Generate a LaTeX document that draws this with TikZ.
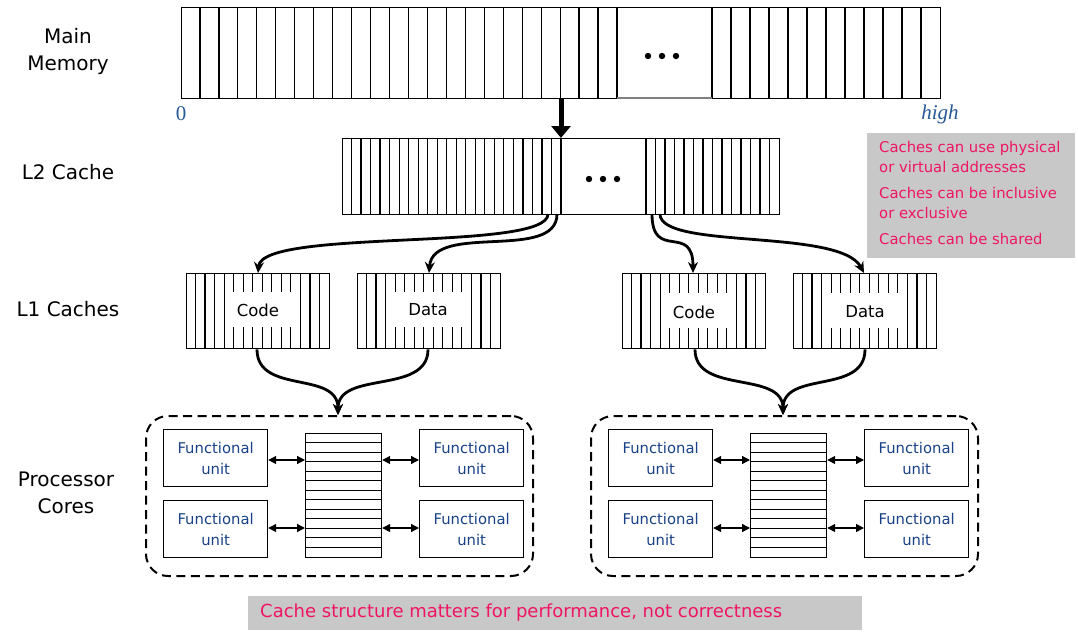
\documentclass[tikz,border=0pt]{standalone}
\usepackage{fontspec}
\setmainfont{DejaVu Sans}
\newfontfamily\addrfont{Liberation Serif}
\usetikzlibrary{arrows.meta}
\definecolor{pinktxt}{RGB}{240,20,100}
\definecolor{boxgray}{RGB}{200,200,200}
\definecolor{fublue}{RGB}{25,65,135}
\definecolor{addrblue}{RGB}{40,90,150}
\begin{document}
\begin{tikzpicture}[x=1pt,y=-1pt,
  cellbox/.style={draw,line width=1.4pt,inner sep=0pt,anchor=north west},
  cellline/.style={line width=1.2pt},
  lbl/.style={font=\fontsize{20}{27}\selectfont,align=center},
  cachelbl/.style={inner sep=0pt,font=\fontsize{16.5}{20}\selectfont},
  fubox/.style={draw,line width=1.2pt,inner sep=0pt,minimum width=104pt,minimum height=57pt,anchor=north west,
     align=center,text=fublue,font=\fontsize{14.8}{21}\selectfont},
  regbox/.style={draw,line width=1.2pt,inner sep=0pt,minimum width=76pt,minimum height=124pt,anchor=north west},
  corebox/.style={draw,line width=2pt,dash pattern=on 9pt off 5.5pt,rounded corners=22pt,inner sep=0pt,anchor=north west},
  flow/.style={line width=2.8pt,-{Stealth[length=11pt,width=10pt]}},
  link/.style={line width=1.3pt,{Triangle[length=8pt,width=8pt]}-{Triangle[length=8pt,width=8pt]}},
  note/.style={text=pinktxt,anchor=west,align=left,inner sep=0pt,font=\fontsize{14.8}{20}\selectfont},
  dots/.style={fill=black}
]
\useasboundingbox (0,0) rectangle (1078,635);

% ---------- left labels
\node[lbl] (lmm) at (68,51) {Main\\Memory};
\node[lbl] (ll2) at (68,172) {L2 Cache};
\node[lbl] (ll1) at (68,309) {L1 Caches};
\node[lbl] (lpc) at (66,493) {Processor\\Cores};

% ---------- main memory
\node[cellbox,minimum width=759pt,minimum height=91pt] (mm) at (181,7) {};
\foreach \i in {1,...,23} \draw[cellline] ({181+\i*436/23},7) -- ({181+\i*436/23},98);
\foreach \i in {0,...,11} \draw[cellline] ({712+\i*19},7) -- ({712+\i*19},98);
\draw[line width=1.4pt,gray] (617,98) -- (712,98);
\foreach \d in {-14,0,14} \fill[dots] ({662+\d},56) circle (3.2pt);
\node[text=addrblue,font=\addrfont\fontsize{21}{24}\selectfont] (zero) at (181,114) {0};
\node[text=addrblue,font=\addrfont\itshape\fontsize{21}{24}\selectfont] (high) at (940,114) {high};

% ---------- L2
\node[cellbox,minimum width=437pt,minimum height=76pt] (l2) at (342,138) {};
\foreach \i in {1,...,23} \draw[cellline] ({342+\i*219/23},138) -- ({342+\i*219/23},214);
\foreach \i in {0,...,13} \draw[cellline] ({646+\i*133/14},138) -- ({646+\i*133/14},214);
\foreach \d in {-14,0,14} \fill[dots] ({603+\d},179) circle (3.2pt);

\coordinate (mmout) at (561,98);
\coordinate (l2in) at (561,138);
\draw[line width=5pt,-{Triangle[length=12pt,width=19pt]}] (mmout) -- (l2in);

% ---------- L1 caches
\node[cellbox,minimum width=143pt,minimum height=75pt] (codeL) at (186,273) {};
\foreach \i in {1,...,14} \draw[cellline] ({186+\i*143/15},273) -- ({186+\i*143/15},348);
\fill[white] (233,292) rectangle (299,327);
\node[cachelbl] (codeLt) at (258,310) {Code};

\node[cellbox,minimum width=143pt,minimum height=75pt] (dataL) at (357,273) {};
\foreach \i in {1,...,14} \draw[cellline] ({357+\i*143/15},273) -- ({357+\i*143/15},348);
\fill[white] (395,292) rectangle (463,327);
\node[cachelbl] (dataLt) at (428,310) {Data};

\node[cellbox,minimum width=143pt,minimum height=75pt] (codeR) at (622,273) {};
\foreach \i in {1,...,14} \draw[cellline] ({622+\i*143/15},273) -- ({622+\i*143/15},348);
\fill[white] (662,293) rectangle (736,328);
\node[cachelbl] (codeRt) at (694,312) {Code};

\node[cellbox,minimum width=143pt,minimum height=75pt] (dataR) at (793,273) {};
\foreach \i in {1,...,14} \draw[cellline] ({793+\i*143/15},273) -- ({793+\i*143/15},348);
\fill[white] (831,293) rectangle (898,328);
\node[cachelbl] (dataRt) at (865,312) {Data};

% ---------- L2 -> L1 connectors
\coordinate (l2a) at (548,214);
\coordinate (l2b) at (557,214);
\coordinate (l2c) at (652,214);
\coordinate (l2d) at (660,214);
\draw[flow] (l2a) .. controls (548,252) and (262,228) .. (codeL.north -| 258,0);
\draw[flow] (l2b) .. controls (557,262) and (433,222) .. (dataL.north -| 429,0);
\draw[flow] (l2c) .. controls (652,262) and (693,222) .. (codeR.north -| 693,0);
\draw[flow] (l2d) .. controls (660,250) and (840,228) .. (dataR.north -| 864,0);

% ---------- processor cores
\foreach \c/\dx in {A/0,B/445}{
  \node[corebox,minimum width=387pt,minimum height=160pt] (core\c) at ({145+\dx},415) {};
  \node[fubox] (fu1\c) at ({163+\dx},429) {Functional\\unit};
  \node[fubox] (fu2\c) at ({163+\dx},500) {Functional\\unit};
  \node[fubox] (fu3\c) at ({419+\dx},429) {Functional\\unit};
  \node[fubox] (fu4\c) at ({419+\dx},500) {Functional\\unit};
  \node[regbox] (reg\c) at ({305+\dx},433) {};
  \foreach \j in {1,...,12} \draw[line width=1.1pt] ({305+\dx},{433+\j*124/13}) -- ({381+\dx},{433+\j*124/13});
  \draw[link] (fu1\c.east |- 0,460) -- (reg\c.west |- 0,460);
  \draw[link] (fu2\c.east |- 0,528) -- (reg\c.west |- 0,528);
  \draw[link] (reg\c.east |- 0,460) -- (fu3\c.west |- 0,460);
  \draw[link] (reg\c.east |- 0,528) -- (fu4\c.west |- 0,528);
}

% ---------- L1 -> cores connectors
\coordinate (mA) at (338,415);
\coordinate (mB) at (783,415);
\draw[flow] (codeL.south -| 257,0) .. controls (257,395) and (338,370) .. (mA);
\draw[flow] (dataL.south -| 428,0) .. controls (428,395) and (338,370) .. (mA);
\draw[flow] (codeR.south -| 695,0) .. controls (695,395) and (783,370) .. (mB);
\draw[flow] (dataR.south -| 865,0) .. controls (865,395) and (783,370) .. (mB);

% ---------- notes
\node[fill=boxgray,inner sep=0pt,minimum width=208pt,minimum height=125pt,anchor=north west] (notebox) at (867,133) {};
\node[note] (n1) at (879,157) {Caches can use physical\\or virtual addresses};
\node[note] (n2) at (879,203) {Caches can be inclusive\\or exclusive};
\node[note] (n3) at (879,239) {Caches can be shared};

\node[fill=boxgray,inner sep=0pt,minimum width=614pt,minimum height=34pt,anchor=north west] (bottombox) at (248,596) {};
\node[text=pinktxt,anchor=west,inner sep=0pt,font=\fontsize{18}{20}\selectfont] (bottomtxt) at (260,613) {Cache structure matters for performance, not correctness};
\end{tikzpicture}
\end{document}
